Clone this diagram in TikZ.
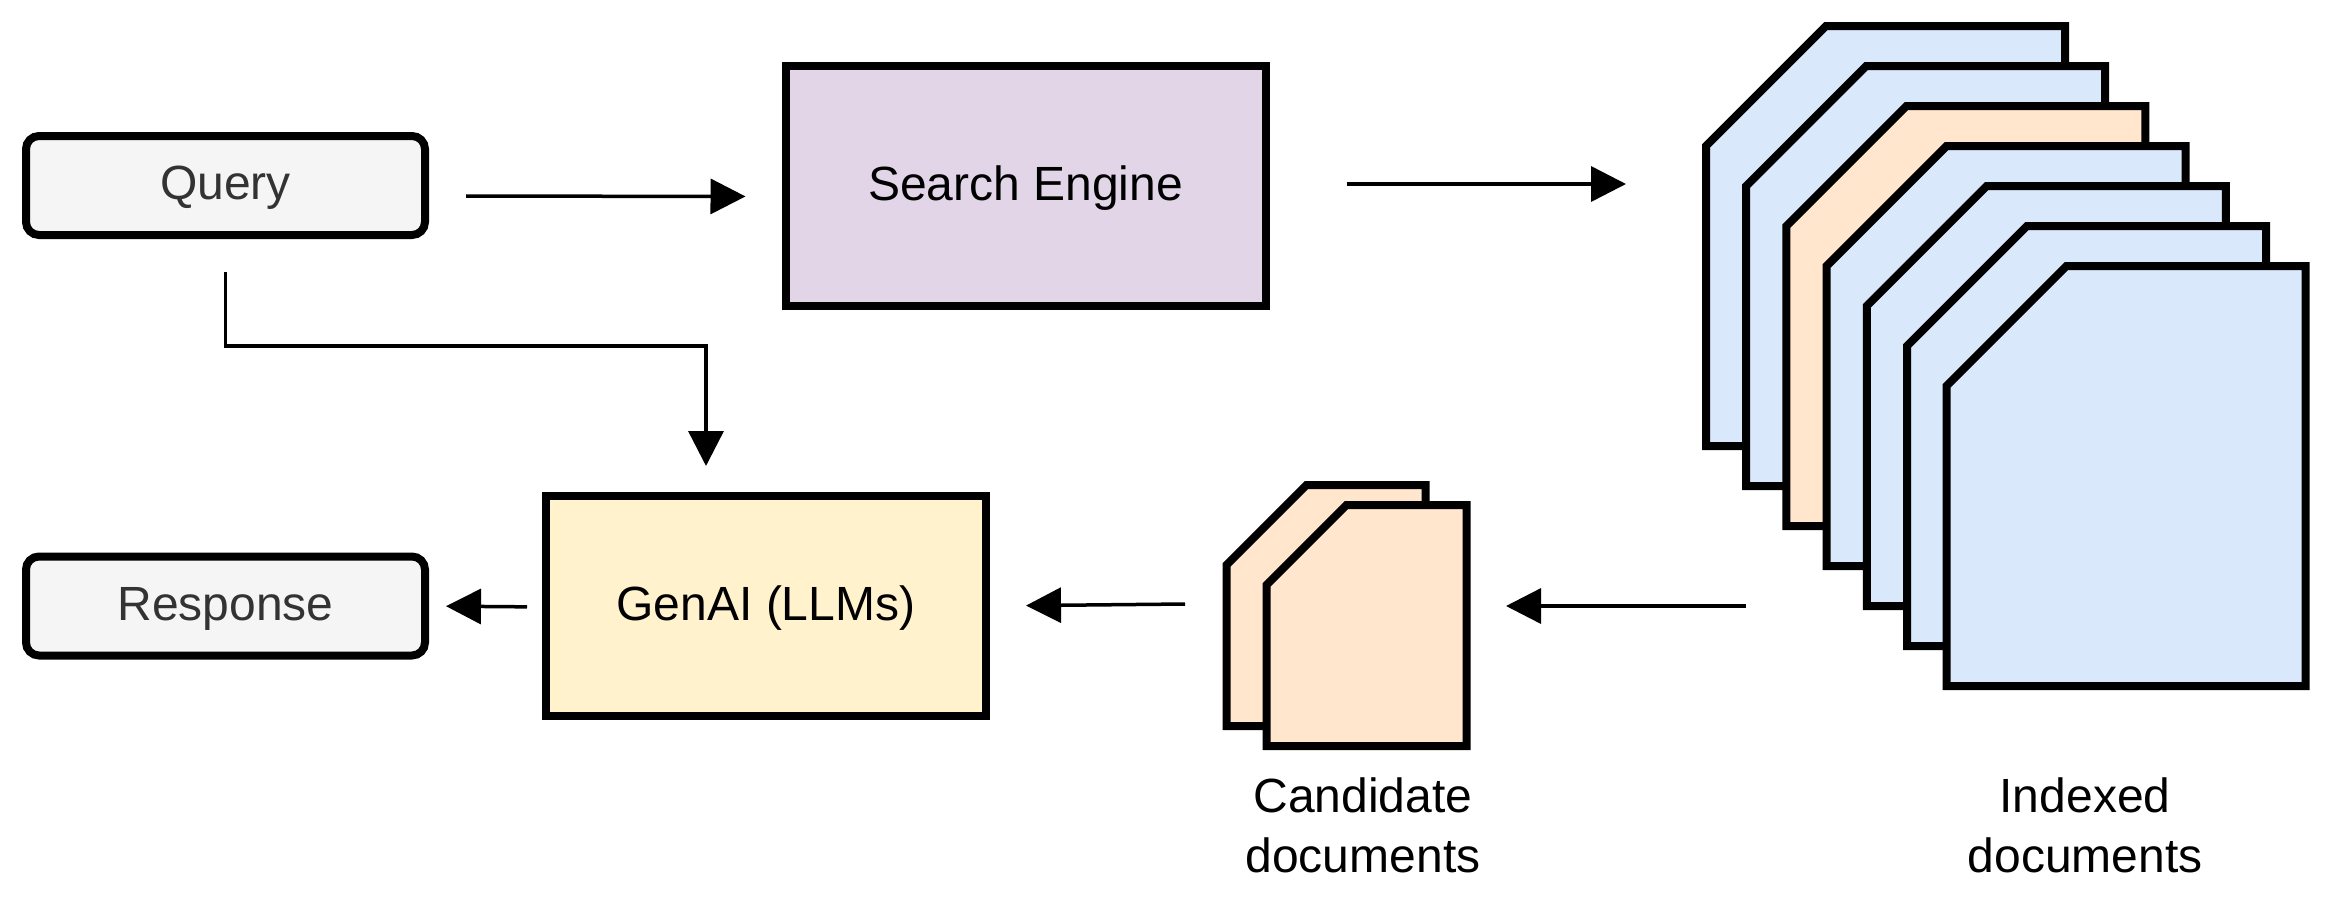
\documentclass[tikz,border=0pt]{standalone}
\usepackage{fontspec}
\setmainfont{Liberation Sans}
\usetikzlibrary{arrows.meta}
\tikzset{
  x=1pt,y=-1pt,
  base/.style={draw=black,line width=8pt,outer sep=0pt,inner sep=0pt,font=\fontsize{48}{60}\selectfont,align=center,text height=40pt,text depth=12pt},
  endbox/.style={base,rounded corners=13pt,fill=endfill,text=endtext,minimum width=399pt,minimum height=99pt},
  procbox/.style={base,rectangle},
  docpage/.style={draw=black,line width=8pt,miter limit=10},
  caption/.style={font=\fontsize{48}{60}\selectfont,align=center,inner sep=0pt},
  flow/.style={line width=3.5pt,-{Triangle[length=35pt,width=35pt]}},
}
\definecolor{endfill}{HTML}{F5F5F5}
\definecolor{endtext}{HTML}{333333}
\definecolor{engine}{HTML}{E1D5E7}
\definecolor{genai}{HTML}{FFF2CC}
\definecolor{docblue}{HTML}{DAE8FC}
\definecolor{docorange}{HTML}{FFE6CC}
% \docsheet{left}{top}{width}{height}{chamfer}{fill}
\newcommand{\docsheet}[6]{%
  \draw[docpage,fill=#6] (#1+#5,#2) -- (#1+#3,#2) -- (#1+#3,#2+#4) -- (#1,#2+#4) -- (#1,#2+#5) -- cycle;}
\begin{document}
\begin{tikzpicture}
\useasboundingbox (0,0) rectangle (2332,908);
\node[endbox] (query) at (225.5,185.5) {Query};
\node[endbox] (response) at (225.5,606) {Response};
\node[procbox,fill=engine,minimum width=480pt,minimum height=240pt] (engine) at (1025.5,186) {Search Engine};
\node[procbox,fill=genai,minimum width=440pt,minimum height=220pt] (llm) at (766,606) {GenAI (LLMs)};
% indexed stack
\docsheet{1706}{26}{359}{420}{120}{docblue}
\docsheet{1746.2}{66}{359}{420}{120}{docblue}
\docsheet{1786.4}{106}{359}{420}{120}{docorange}
\docsheet{1826.6}{146}{359}{420}{120}{docblue}
\docsheet{1866.8}{186}{359}{420}{120}{docblue}
\docsheet{1907}{226}{359}{420}{120}{docblue}
\docsheet{1946.5}{266}{359}{420}{120}{docblue}
% candidates
\docsheet{1226.5}{485}{199}{241}{80}{docorange}
\docsheet{1266.5}{505}{200}{241}{80}{docorange}
\node[caption] (capc) at (1363,825) {Candidate\\documents};
\node[caption] (capi) at (2085,825) {Indexed\\documents};
% connector free ends beside the document stacks
\coordinate (idxin) at (1626,184);
\coordinate (idxout) at (1746,606);
\coordinate (candin) at (1506,606);
\coordinate (candout) at (1185,604);
% connectors
\draw[flow,shorten <=41pt,shorten >=40pt] ([yshift=-10.5pt]query.east) -- ([yshift=-10.5pt]engine.west);
\draw[flow,shorten <=81pt] ([yshift=2pt]engine.east) -- (idxin);
\draw[flow,shorten <=37pt,shorten >=30pt] (query.south) -- ++(0,111) -| (706,0 |- llm.north);
\draw[flow,shorten <=19pt,shorten >=21pt] ([yshift=-1pt]llm.west) -- (response.east);
\draw[flow,shorten >=40pt] (candout) -- (llm.east);
\draw[flow] (idxout) -- (candin);
\end{tikzpicture}
\end{document}
